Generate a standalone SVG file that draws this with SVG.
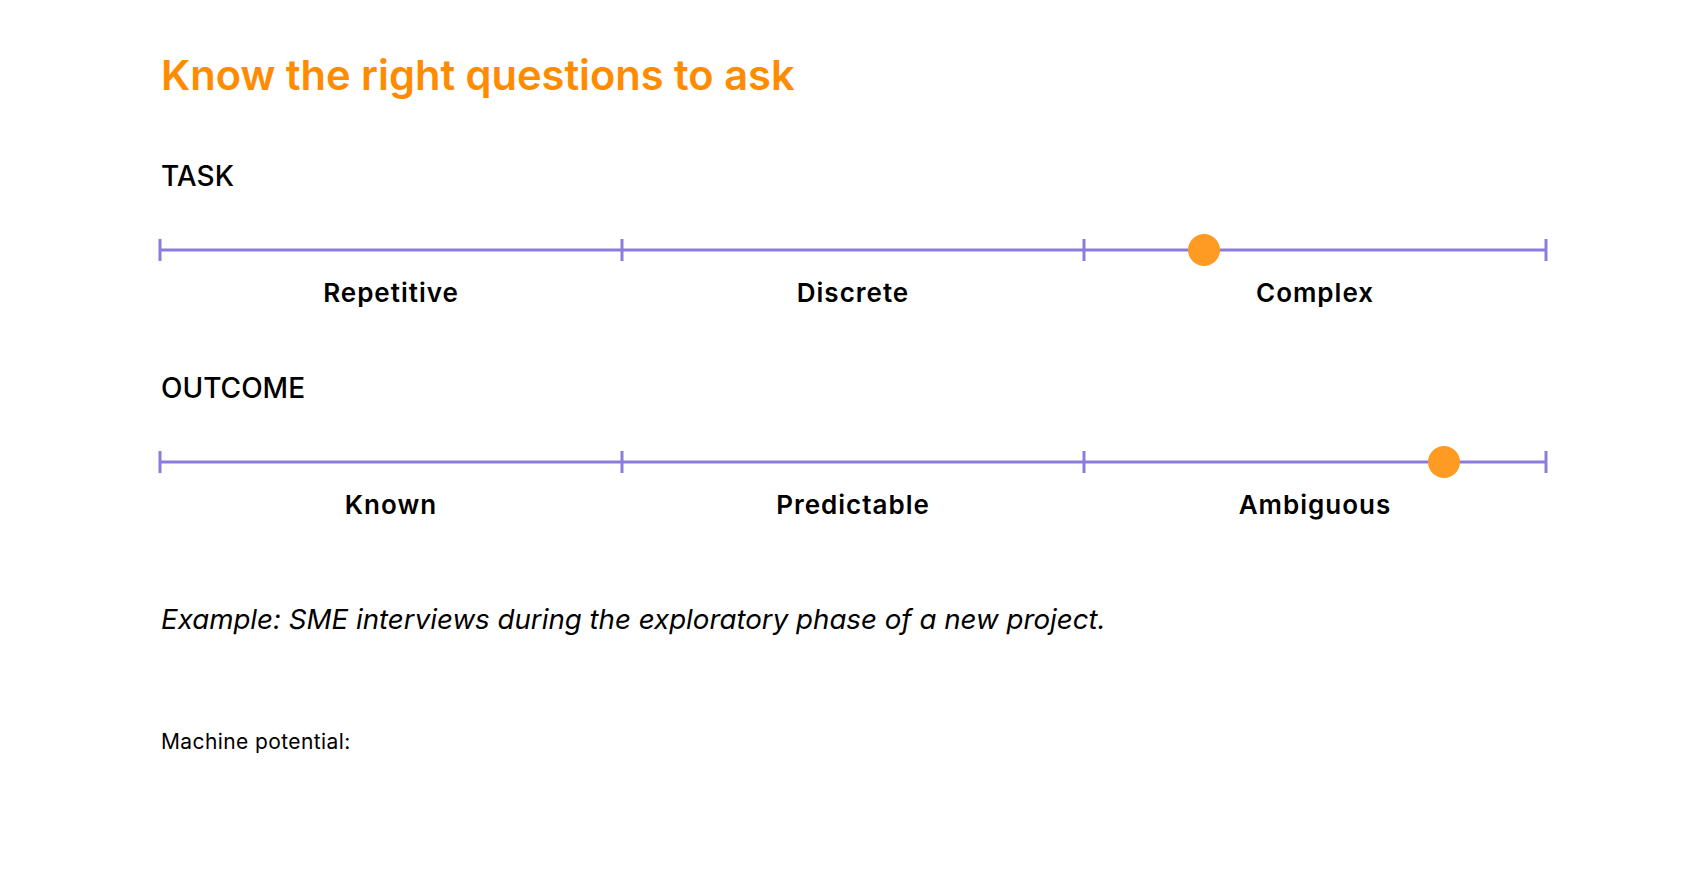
<svg xmlns="http://www.w3.org/2000/svg" width="1706" height="872" viewBox="0 0 1706 872">
<style>
text{font-family:Inter,"Noto Sans","Liberation Sans",sans-serif;fill:#000}
.title{font-size:41.6px;font-weight:600;fill:#FF8C00}
.head{font-size:28px;font-weight:500}
.lab{font-size:26px;font-weight:600;text-anchor:middle;letter-spacing:1px}
.ex{font-size:27.7px;font-style:italic}
.mp{font-size:21px;letter-spacing:0.4px}
.axis{stroke:#8A7DDC;stroke-width:3;fill:none}
.dot{fill:#FF9A22}
</style>
<rect width="1706" height="872" fill="#fff"/>
<text class="title" x="161" y="90">Know the right questions to ask</text>
<g id="task">
<text class="head" x="161" y="186">TASK</text>
<g class="axis"><path d="M160 250H1546M160 239V261M622 239V261M1084 239V261M1546 239V261"/></g>
<circle class="dot" cx="1204" cy="250" r="16"/>
<text class="lab" x="391" y="302">Repetitive</text>
<text class="lab" x="853" y="302">Discrete</text>
<text class="lab" x="1315" y="302">Complex</text>
</g>
<g id="outcome">
<text class="head" x="161" y="398">OUTCOME</text>
<g class="axis"><path d="M160 462H1546M160 451V473M622 451V473M1084 451V473M1546 451V473"/></g>
<circle class="dot" cx="1444" cy="462" r="16"/>
<text class="lab" x="391" y="514">Known</text>
<text class="lab" x="853" y="514">Predictable</text>
<text class="lab" x="1315" y="514">Ambiguous</text>
</g>
<text class="ex" x="161" y="629">Example: SME interviews during the exploratory phase of a new project.</text>
<text class="mp" x="161" y="749">Machine potential:</text>
</svg>
